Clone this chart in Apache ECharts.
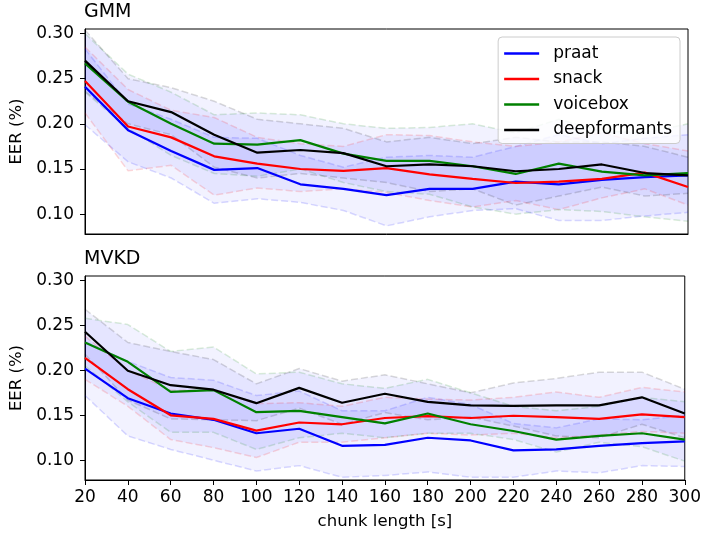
<!DOCTYPE html>
<html>
<head>
<meta charset="utf-8">
<script src="https://cdn.jsdelivr.net/npm/echarts@6/dist/echarts.min.js"></script>
<style>html,body{margin:0;padding:0;background:#fff}#c{width:704px;height:536px}</style>
</head>
<body>
<div id="c"></div>
<script>
const chunkLengths = [20,40,60,80,100,120,140,160,180,200,220,240,260,280,300];
const yTicks = [0.10,0.15,0.20,0.25,0.30];
const methods = ['praat','snack','voicebox','deepformants'];
const panelTitles = ['GMM','MVKD'];

// GMM
const gmmPraat      = [0.241,0.193,0.170,0.149,0.151,0.133,0.128,0.121,0.128,0.128,0.136,0.133,0.138,0.141,0.143];
const gmmPraatHi    = [0.283,0.222,0.205,0.185,0.184,0.165,0.152,0.163,0.165,0.163,0.175,0.188,0.178,0.184,0.188];
const gmmPraatLo    = [0.199,0.158,0.140,0.112,0.117,0.113,0.104,0.087,0.097,0.104,0.106,0.093,0.093,0.098,0.102];
const gmmSnack      = [0.2475,0.197,0.185,0.164,0.156,0.150,0.148,0.151,0.144,0.139,0.1345,0.136,0.139,0.146,0.130];
const gmmSnackHi    = [0.285,0.238,0.215,0.207,0.185,0.178,0.175,0.188,0.187,0.180,0.175,0.180,0.190,0.178,0.170];
const gmmSnackLo    = [0.212,0.148,0.154,0.121,0.129,0.125,0.128,0.124,0.115,0.108,0.115,0.105,0.118,0.128,0.110];
const gmmVoicebox   = [0.267,0.2245,0.200,0.178,0.177,0.182,0.167,0.159,0.159,0.153,0.1445,0.156,0.147,0.143,0.1455];
const gmmVoiceboxHi = [0.300,0.255,0.235,0.210,0.212,0.210,0.200,0.195,0.196,0.200,0.190,0.205,0.192,0.190,0.200];
const gmmVoiceboxLo = [0.235,0.195,0.165,0.145,0.142,0.150,0.135,0.125,0.122,0.108,0.100,0.105,0.103,0.097,0.092];
const gmmDeep       = [0.270,0.225,0.213,0.188,0.168,0.171,0.1675,0.153,0.155,0.153,0.1475,0.150,0.155,0.1455,0.143];
const gmmDeepHi     = [0.304,0.250,0.240,0.225,0.205,0.200,0.195,0.180,0.185,0.178,0.185,0.180,0.180,0.175,0.163];
const gmmDeepLo     = [0.236,0.200,0.188,0.152,0.140,0.145,0.140,0.135,0.125,0.128,0.110,0.120,0.130,0.120,0.123];

// MVKD
const mvkdPraat      = [0.202,0.169,0.152,0.145,0.130,0.135,0.116,0.117,0.125,0.122,0.111,0.112,0.116,0.119,0.121];
const mvkdPraatHi    = [0.232,0.210,0.192,0.189,0.172,0.177,0.155,0.155,0.170,0.162,0.141,0.136,0.146,0.145,0.150];
const mvkdPraatLo    = [0.172,0.127,0.112,0.100,0.088,0.094,0.081,0.083,0.087,0.081,0.081,0.088,0.086,0.094,0.093];
const mvkdSnack      = [0.214,0.179,0.150,0.146,0.133,0.142,0.140,0.147,0.149,0.147,0.1495,0.148,0.146,0.151,0.148];
const mvkdSnackHi    = [0.238,0.200,0.178,0.178,0.163,0.164,0.160,0.170,0.168,0.167,0.170,0.176,0.170,0.181,0.176];
const mvkdSnackLo    = [0.190,0.160,0.123,0.114,0.103,0.120,0.120,0.125,0.130,0.128,0.130,0.125,0.128,0.132,0.130];
const mvkdVoicebox   = [0.231,0.2095,0.176,0.178,0.1535,0.155,0.148,0.141,0.152,0.140,0.1325,0.123,0.127,0.130,0.123];
const mvkdVoiceboxHi = [0.258,0.251,0.221,0.226,0.196,0.198,0.185,0.180,0.190,0.175,0.160,0.155,0.160,0.170,0.165];
const mvkdVoiceboxLo = [0.205,0.165,0.131,0.131,0.112,0.125,0.130,0.125,0.130,0.130,0.123,0.109,0.120,0.115,0.099];
const mvkdDeep       = [0.243,0.1995,0.1835,0.1785,0.1635,0.1805,0.164,0.174,0.165,0.161,0.1605,0.161,0.161,0.170,0.152];
const mvkdDeepHi     = [0.268,0.231,0.221,0.212,0.185,0.202,0.188,0.195,0.185,0.175,0.186,0.191,0.198,0.198,0.179];
const mvkdDeepLo     = [0.218,0.167,0.146,0.145,0.144,0.158,0.140,0.153,0.145,0.148,0.138,0.127,0.125,0.140,0.125];

const colors = ['#0000ff','#ff0000','#008000','#000000'];
const edgeColors = ['rgba(0,0,255,0.15)','rgba(255,0,0,0.15)','rgba(0,128,0,0.15)','rgba(0,0,0,0.15)'];
const FONT = 'DejaVu Sans';

const panels = [
  {mean:[gmmPraat,gmmSnack,gmmVoicebox,gmmDeep], hi:[gmmPraatHi,gmmSnackHi,gmmVoiceboxHi,gmmDeepHi], lo:[gmmPraatLo,gmmSnackLo,gmmVoiceboxLo,gmmDeepLo]},
  {mean:[mvkdPraat,mvkdSnack,mvkdVoicebox,mvkdDeep], hi:[mvkdPraatHi,mvkdSnackHi,mvkdVoiceboxHi,mvkdDeepHi], lo:[mvkdPraatLo,mvkdSnackLo,mvkdVoiceboxLo,mvkdDeepLo]}
];

const pairs = arr => chunkLengths.map((x,i)=>[x, arr[i]]);
const series = [];
panels.forEach((p, gi) => {
  methods.forEach((m, k) => {
    const hi = p.hi[k], lo = p.lo[k];
    series.push({
      type:'custom', xAxisIndex:gi, yAxisIndex:gi, silent:true, z:1,
      data:[[chunkLengths[0], hi[0]]],
      encode:{x:0,y:1},
      renderItem:(params, api) => {
        const pts = [];
        chunkLengths.forEach((x,i)=>pts.push(api.coord([x, hi[i]])));
        for (let i = chunkLengths.length-1; i >= 0; i--) pts.push(api.coord([chunkLengths[i], lo[i]]));
        return {type:'polygon', shape:{points:pts}, style:{fill:'rgba(0,0,255,0.05)'}};
      },
      clip:true
    });
    [hi, lo].forEach((arr, j) => {
      series.push({
        type:'line', name:m + (j ? '_lo' : '_hi') + gi, xAxisIndex:gi, yAxisIndex:gi,
        data:pairs(arr), symbol:'none', silent:true, z:2,
        lineStyle:{color:edgeColors[k], width:1.5, type:[7,3]},
        itemStyle:{color:edgeColors[k]}
      });
    });
  });
  methods.forEach((m, k) => {
    series.push({
      type:'line', name:m, xAxisIndex:gi, yAxisIndex:gi,
      data:pairs(p.mean[k]), symbol:'none', z:3 + k*0.01,
      lineStyle:{color:colors[k], width:2.2}, itemStyle:{color:colors[k]}
    });
  });
});

const grids = [
  {left:84, top:29, width:604, height:205},
  {left:84, top:276, width:604, height:204}
].map(g => Object.assign(g, {show:true, borderColor:'#000', borderWidth:1, backgroundColor:'transparent'}));

const xAxes = [0,1].map(gi => ({
  type:'value', gridIndex:gi, min:20, max:300, interval:20,
  axisLine:{show:true, onZero:false, lineStyle:{color:'#000', width:1}},
  axisTick:{show:gi===1, length:5, lineStyle:{color:'#000'}},
  axisLabel:{show:gi===1, fontSize:17, color:'#000', fontFamily:FONT, margin:9},
  splitLine:{show:false},
  name: gi===1 ? 'chunk length [s]' : '',
  nameLocation:'middle', nameGap:33,
  nameTextStyle:{fontSize:16.5, color:'#000', fontFamily:FONT}
}));

const yAxes = [0,1].map(gi => ({
  type:'value', gridIndex:gi, min:0.078, max:0.305,
  axisLine:{show:true, onZero:false, lineStyle:{color:'#000', width:1}},
  axisTick:{show:true, length:5, customValues:yTicks, lineStyle:{color:'#000'}},
  axisLabel:{customValues:yTicks, formatter:v=>v.toFixed(2), fontSize:17, color:'#000', fontFamily:FONT, margin:11},
  splitLine:{show:false},
  name:'EER (%)', nameLocation:'middle', nameGap:60, nameRotate:90,
  nameTextStyle:{fontSize:16.5, color:'#000', fontFamily:FONT}
}));

const chart = echarts.init(document.getElementById('c'), null, {renderer:'canvas'});
chart.setOption({
  animation:false,
  backgroundColor:'#fff',
  title: panelTitles.map((t, i) => ({
    text:t, left:84, top: i===0 ? 3 : 250,
    padding:0,
    textStyle:{fontSize:19, fontWeight:'normal', color:'#000', fontFamily:FONT}
  })),
  legend:{
    data:methods, orient:'vertical', right:24, top:37,
    icon:'rect', itemWidth:35, itemHeight:2.5, itemGap:8.5,
    padding:[8,8,5,6],
    backgroundColor:'rgba(255,255,255,0.8)', borderColor:'#cccccc', borderWidth:1, borderRadius:4,
    textStyle:{fontSize:17, color:'#000', fontFamily:FONT, padding:[0,0,0,9]},
    z:10
  },
  grid:grids, xAxis:xAxes, yAxis:yAxes, series:series
});
</script>
</body>
</html>
